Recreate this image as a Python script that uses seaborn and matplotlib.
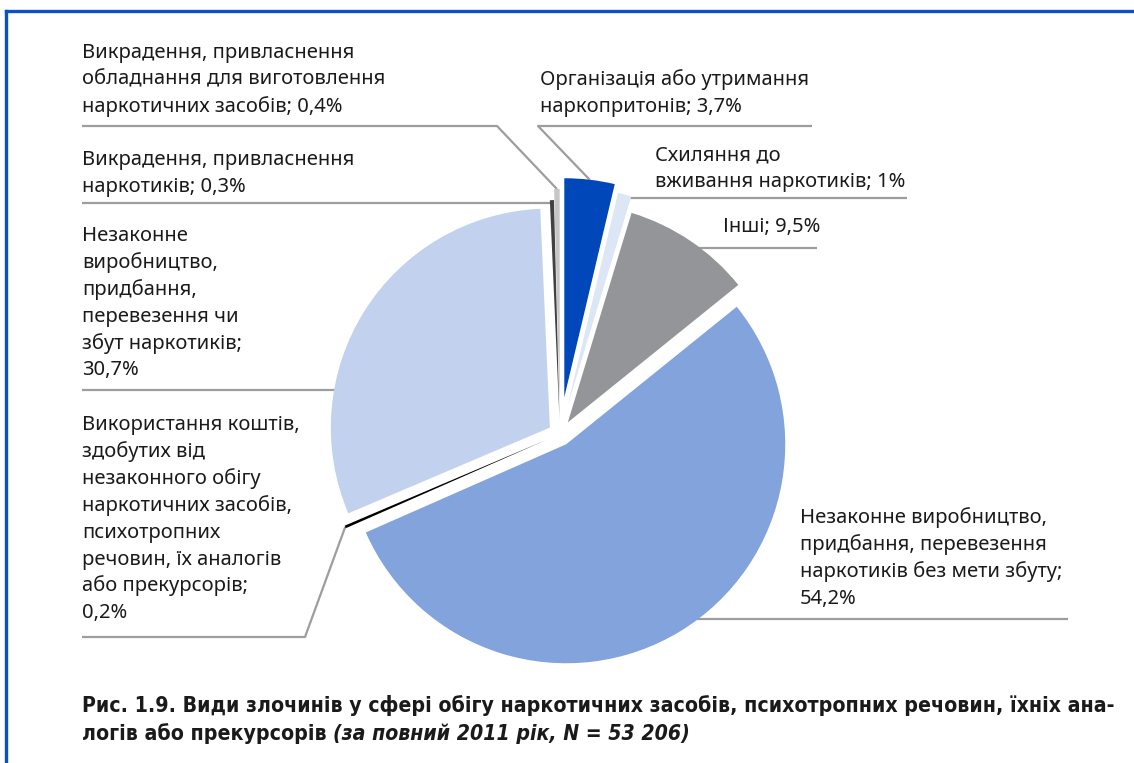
import matplotlib
matplotlib.use('Agg')
import numpy as np
import matplotlib.pyplot as plt
import seaborn as sns

# Data: crime types (drug-related), 2011, N = 53 206
categories = [
    'Організація або утримання наркопритонів',
    'Схиляння до вживання наркотиків',
    'Інші',
    'Незаконне виробництво, придбання, перевезення наркотиків без мети збуту',
    'Використання коштів, здобутих від незаконного обігу наркотичних засобів',
    'Незаконне виробництво, придбання, перевезення чи збут наркотиків',
    'Викрадення, привласнення наркотиків',
    'Викрадення, привласнення обладнання для виготовлення наркотичних засобів',
]
shares = [3.7, 1.0, 9.5, 54.2, 0.2, 30.7, 0.3, 0.4]
labels = [
    'Організація або утримання\nнаркопритонів; 3,7%',
    'Схиляння до\nвживання наркотиків; 1%',
    'Інші; 9,5%',
    'Незаконне виробництво,\nпридбання, перевезення\nнаркотиків без мети збуту;\n54,2%',
    'Використання коштів,\nздобутих від\nнезаконного обігу\nнаркотичних засобів,\nпсихотропних\nречовин, їх аналогів\nабо прекурсорів;\n0,2%',
    'Незаконне\nвиробництво,\nпридбання,\nперевезення чи\nзбут наркотиків;\n30,7%',
    'Викрадення, привласнення\nнаркотиків; 0,3%',
    'Викрадення, привласнення\nобладнання для виготовлення\nнаркотичних засобів; 0,4%',
]
colors = ['#0047ba', '#dce6f5', '#939598', '#82a3db', '#000000', '#c1d1ee', '#414141', '#c6c6c6']
explode = [37, 29, 14, 12, 15, 12, 15, 26]   # in pixels

caption_1 = 'Рис. 1.9. Види злочинів у сфері обігу наркотичних засобів, психотропних речовин, їхніх ана-'
caption_2 = 'логів або прекурсорів '
caption_3 = '(за повний 2011 рік, N = 53 206)'

# label placement: text x, first baseline, underline y, far end of underline, leader kind
layout = [
    dict(x=540, y=85, uy=126, ux=812, kind='right_diag', elbow=538),
    dict(x=655, y=160, uy=198, ux=907, kind='right_flat'),
    dict(x=723, y=232, uy=248, ux=817, kind='right_flat'),
    dict(x=800, y=523, uy=619, ux=1068, kind='right_flat'),
    dict(x=82, y=430, uy=637, ux=82, kind='left_diag', elbow=305),
    dict(x=82, y=241, uy=390, ux=82, kind='left_flat'),
    dict(x=82, y=165, uy=203, ux=82, kind='left_flat'),
    dict(x=82, y=58, uy=126, ux=82, kind='left_diag', elbow=497),
]

sns.set_theme(style='white')
plt.rcParams['font.family'] = ['Noto Sans', 'DejaVu Sans']

W, H = 1134, 763
fig = plt.figure(figsize=(W / 100, H / 100), dpi=100)
ax = fig.add_axes([0, 0, 1, 1])

# pixel-like coordinates, y going down -> angles increase clockwise on screen
wedges, _ = ax.pie(shares, colors=colors, explode=explode, radius=219,
                   center=(560, 434), startangle=-90, counterclock=True,
                   wedgeprops=dict(linewidth=0, zorder=2))
ax.set_xlim(0, W)
ax.set_ylim(H, 0)
ax.set_aspect('equal')
ax.axis('off')

line_kw = dict(color='#9d9d9d', lw=1.6, zorder=1, solid_capstyle='butt')
step = 26.9
for k, (w, lab, lay) in enumerate(zip(wedges, labels, layout)):
    mid = np.deg2rad((w.theta1 + w.theta2) / 2)
    ax_x = w.center[0] + w.r * np.cos(mid)
    ax_y = w.center[1] + w.r * np.sin(mid)
    for i, line in enumerate(lab.split('\n')):
        ax.text(lay['x'], lay['y'] + i * step, line, fontsize=14.5,
                color='#1a1a1a', va='baseline', ha='left')
    uy = lay['uy']
    if lay['kind'] in ('right_diag', 'left_diag'):
        ax.plot([lay['ux'], lay['elbow'], ax_x], [uy, uy, ax_y], **line_kw)
    elif lay['kind'] == 'right_flat':
        # start under the wedge so the line seems to leave its rim
        x0 = w.center[0] if k == 3 else ax_x
        ax.plot([x0, lay['ux']], [uy, uy], **line_kw)
    else:
        ax.plot([lay['ux'], ax_x - 2], [uy, uy], **line_kw)

# frame
frame_kw = dict(color='#0b50c6', lw=2.4, clip_on=False, solid_capstyle='projecting')
ax.plot([6, 6], [H, 11], **frame_kw)
ax.plot([6, W], [11, 11], **frame_kw)

# caption (bold, condensed look); fit to the reference line width
cap_kw = dict(fontweight='bold', family=['DejaVu Sans'], fontstretch='condensed',
              color='#1a1a1a', va='baseline')
size = 15
t1 = ax.text(82, 712, caption_1, fontsize=size, **cap_kw)
fig.canvas.draw()
width = t1.get_window_extent().width
size = size * 1030 / width
t1.set_fontsize(size)
t2 = ax.text(82, 740, caption_2, fontsize=size, **cap_kw)
fig.canvas.draw()
bb = t2.get_window_extent()
ax.text(bb.x1, 740, caption_3, fontsize=size, fontstyle='italic', **cap_kw)

fig.savefig('out.png', dpi=100)
